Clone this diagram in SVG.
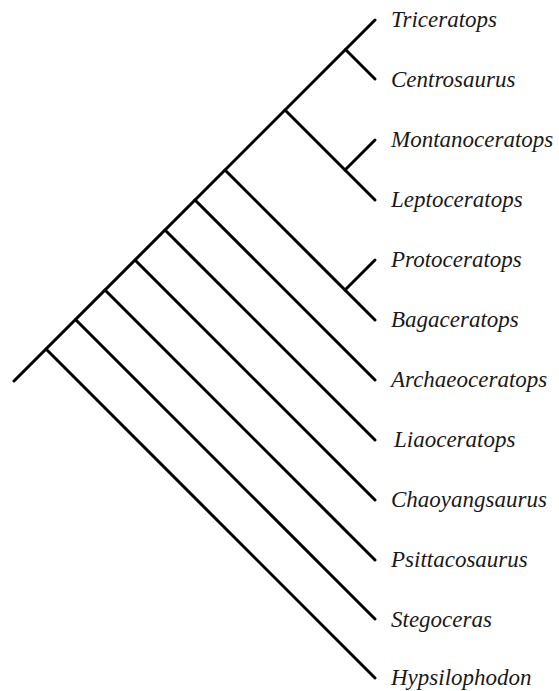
<svg xmlns="http://www.w3.org/2000/svg" width="559" height="691" viewBox="0 0 559 691">
<style>
.e{stroke:#000;stroke-width:3;fill:none;stroke-linecap:round}
text{font-family:"Liberation Serif","Times New Roman",serif;font-style:italic;font-size:23px;fill:#1a1a1a}
</style>
<rect width="559" height="691" fill="#fff"/>
<g id="connectors">
<path class="e" d="M14,381 L375,20"/>
<path class="e" d="M345.5,49.5 L375,79"/>
<path class="e" d="M285,110 L375,200"/>
<path class="e" d="M345,170 L375,140"/>
<path class="e" d="M225,170 L375,320"/>
<path class="e" d="M345,290 L375,260"/>
<path class="e" d="M195,200 L375,380"/>
<path class="e" d="M165,230 L375,440"/>
<path class="e" d="M135,260 L375,500"/>
<path class="e" d="M105,290 L375,560"/>
<path class="e" d="M75.5,319.5 L375,619"/>
<path class="e" d="M46,349 L375,678"/>
</g>
<g id="n-triceratops"><text x="391" y="27">Triceratops</text></g>
<g id="n-centrosaurus"><text x="391" y="87">Centrosaurus</text></g>
<g id="n-montanoceratops"><text x="391" y="147">Montanoceratops</text></g>
<g id="n-leptoceratops"><text x="391" y="207">Leptoceratops</text></g>
<g id="n-protoceratops"><text x="391" y="267">Protoceratops</text></g>
<g id="n-bagaceratops"><text x="391" y="327">Bagaceratops</text></g>
<g id="n-archaeoceratops"><text x="391" y="387">Archaeoceratops</text></g>
<g id="n-liaoceratops"><text x="394" y="447">Liaoceratops</text></g>
<g id="n-chaoyangsaurus"><text x="391" y="507">Chaoyangsaurus</text></g>
<g id="n-psittacosaurus"><text x="391" y="567">Psittacosaurus</text></g>
<g id="n-stegoceras"><text x="391" y="627">Stegoceras</text></g>
<g id="n-hypsilophodon"><text x="391" y="685">Hypsilophodon</text></g>
</svg>
